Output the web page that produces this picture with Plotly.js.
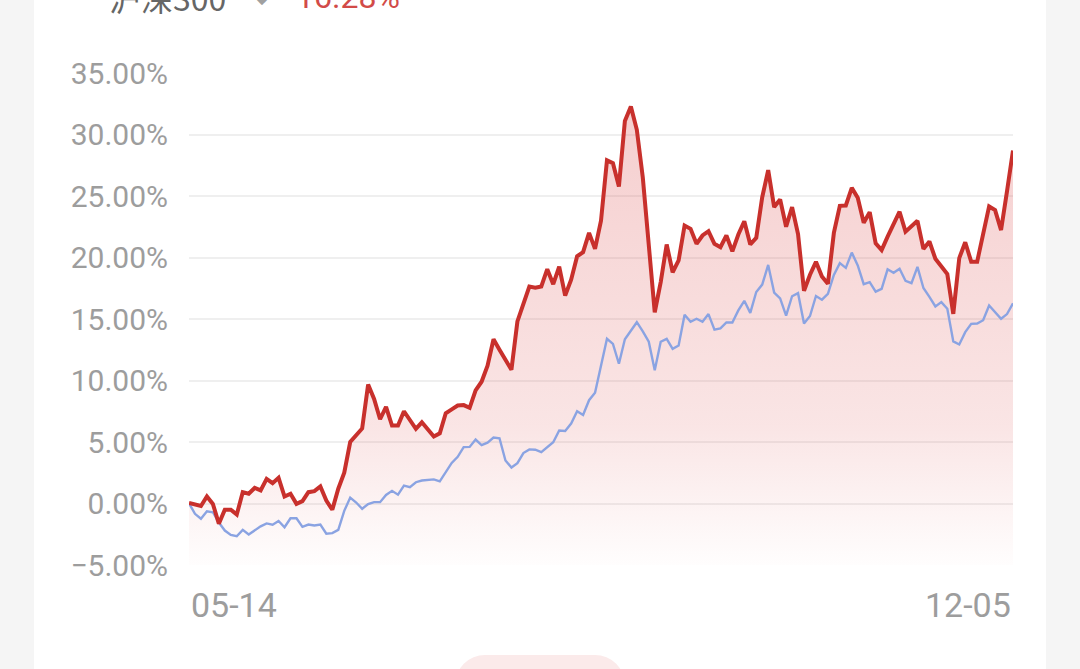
<!DOCTYPE html>
<html>
<head>
<meta charset="utf-8">
<script src="https://cdn.plot.ly/plotly-3.0.1.min.js"></script>
<style>
  html, body { margin: 0; padding: 0; background: #f5f5f5; width: 1080px; height: 669px; overflow: hidden; }
  #card { position: absolute; left: 34px; top: 0; width: 1012px; height: 669px; background: #ffffff; }
  #btn { position: absolute; left: 455px; top: 655px; width: 170px; height: 60px; border-radius: 30px; background: #fbeaea; }
  #chart { position: absolute; left: 0; top: 0; width: 1080px; height: 669px; }
</style>
</head>
<body>
<div id="card"></div>
<div id="btn"></div>
<div id="chart"></div>
<script>
// Fund cumulative return (%), red line
const fundReturn = [
  0.05, -0.08, -0.2, 0.57, -0.03, -1.65, -0.5, -0.5, -0.9, 0.92,
  0.79, 1.27, 1.06, 2.0, 1.65, 2.09, 0.57, 0.79, -0.03, 0.19,
  0.92, 1.0, 1.38, 0.24, -0.51, 1.2, 2.5, 5.0, 5.5, 6.1,
  9.67, 8.5, 6.85, 7.85, 6.34, 6.34, 7.5, 6.75, 6.07, 6.6,
  5.96, 5.45, 5.7, 7.34, 7.65, 7.97, 8.0, 7.78, 9.2, 9.9,
  11.2, 13.35, 12.5, 11.7, 10.87, 14.8, 16.24, 17.64, 17.55, 17.65,
  19.05, 17.83, 19.25, 16.9, 18.2, 20.1, 20.43, 22.0, 20.7, 23.0,
  27.9, 27.67, 25.77, 31.1, 32.28, 30.38, 26.5, 21.38, 15.55, 18.0,
  21.06, 18.8, 19.76, 22.6, 22.33, 21.11, 21.79, 22.14, 21.11, 20.84,
  21.79, 20.5, 21.87, 22.95, 21.06, 21.6, 24.9, 27.1, 24.1, 24.72,
  22.5, 24.1, 21.9, 17.3, 18.6, 19.65, 18.45, 17.86, 22.0, 24.2,
  24.23, 25.66, 24.85, 22.83, 23.68, 21.15, 20.6, 21.7, 22.7, 23.72,
  22.1, 22.5, 22.98, 20.7, 21.3, 19.9, 19.3, 18.65, 15.42, 19.95,
  21.24, 19.66, 19.66, 21.9, 24.15, 23.85, 22.23, 25.4, 28.7
];
// 沪深300 cumulative return (%), blue line
const csi300Return = [
  0.02, -0.84, -1.24, -0.63, -0.71, -1.55, -2.2, -2.55, -2.66, -2.14,
  -2.52, -2.2, -1.86, -1.62, -1.72, -1.42, -1.93, -1.2, -1.2, -1.9,
  -1.71, -1.79, -1.71, -2.46, -2.41, -2.14, -0.6, 0.48, 0.08, -0.43,
  -0.05, 0.11, 0.11, 0.7, 1.03, 0.72, 1.46, 1.33, 1.73, 1.87,
  1.93, 1.96, 1.8, 2.6, 3.3, 3.8, 4.58, 4.6, 5.2, 4.75,
  4.95, 5.36, 5.3, 3.5, 2.92, 3.28, 4.1, 4.4, 4.37, 4.17,
  4.58, 4.98, 5.93, 5.9, 6.5, 7.5, 7.2, 8.4, 9.0, 11.3,
  13.39, 12.98, 11.36, 13.35, 14.1, 14.74, 14.0, 13.15, 10.84, 13.15,
  13.39, 12.58, 12.85, 15.35, 14.78, 15.02, 14.78, 15.4, 14.13, 14.24,
  14.72, 14.72, 15.7, 16.48, 15.5, 17.2, 17.8, 19.4, 17.15, 16.68,
  15.28, 16.85, 17.1, 14.63, 15.24, 16.87, 16.57, 17.05, 18.58, 19.54,
  19.16, 20.4, 19.35, 17.83, 17.99, 17.22, 17.45, 19.04, 18.76, 19.08,
  18.1, 17.91, 19.24, 17.52, 16.8, 16.02, 16.37, 15.83, 13.18, 12.93,
  13.93, 14.61, 14.63, 14.9, 16.1, 15.55, 15.02, 15.4, 16.28
];
const startLabel = '05-14';
const endLabel = '12-05';
const legendName = '沪深300';
const legendValue = '16.28%';

const yMin = -5, yMax = 35;
const lastIdx = fundReturn.length - 1;
const floor = fundReturn.map(() => yMin);

const tickFont = { family: 'Roboto, "Noto Sans", sans-serif', size: 30, color: '#9d9d9d' };
const dateFont = { family: 'Roboto, "Noto Sans", sans-serif', size: 34, color: '#9d9d9d' };

const traces = [
  { y: floor, mode: 'lines', line: { width: 0, color: 'rgba(0,0,0,0)' }, hoverinfo: 'skip', showlegend: false },
  { y: fundReturn, mode: 'lines', fill: 'tonexty', line: { width: 0, color: 'rgba(0,0,0,0)' },
    fillcolor: 'rgba(220,80,80,0.15)',
    fillgradient: { type: 'vertical', start: yMin, stop: 33,
      colorscale: [[0, 'rgba(220,80,80,0.01)'], [0.3, 'rgba(220,80,80,0.15)'], [1, 'rgba(220,80,80,0.28)']] },
    hoverinfo: 'skip', showlegend: false },
  { y: csi300Return, mode: 'lines', line: { color: '#8aa3e2', width: 2.4 }, showlegend: false },
  { y: fundReturn, mode: 'lines', line: { color: '#c8302c', width: 4 }, showlegend: false }
];

const layout = {
  width: 1080, height: 669,
  margin: { l: 189, r: 67, t: 73, b: 104 },
  paper_bgcolor: 'rgba(0,0,0,0)',
  plot_bgcolor: 'rgba(0,0,0,0)',
  showlegend: false,
  xaxis: { range: [0, lastIdx], showgrid: false, zeroline: false, showticklabels: false, showline: false, fixedrange: true },
  yaxis: { range: [yMin, yMax], tick0: 0, dtick: 5, tickformat: '.2f', ticksuffix: '%',
    showgrid: true, gridcolor: '#efefef', gridwidth: 2, zeroline: false, showline: false,
    tickfont: tickFont, ticklabelstandoff: 20, fixedrange: true },
  annotations: [
    { x: 0, y: 0, xref: 'x', yref: 'paper', xanchor: 'left', yanchor: 'middle', yshift: -40,
      text: startLabel, showarrow: false, font: dateFont },
    { x: lastIdx, y: 0, xref: 'x', yref: 'paper', xanchor: 'right', yanchor: 'middle', yshift: -40,
      text: endLabel, showarrow: false, font: dateFont },
    { x: -0.1, y: 1.1545, xref: 'paper', yref: 'paper', xanchor: 'left', yanchor: 'middle',
      text: legendName, showarrow: false,
      font: { family: '"Noto Sans CJK SC", Roboto, sans-serif', size: 32, color: '#666666' } },
    { x: 0.0886, y: 1.1545, xref: 'paper', yref: 'paper', xanchor: 'center', yanchor: 'middle',
      text: '◆', showarrow: false, font: { family: 'DejaVu Sans', size: 18, color: '#a0a0a0' } },
    { x: 0.127, y: 1.1545, xref: 'paper', yref: 'paper', xanchor: 'left', yanchor: 'middle',
      text: legendValue, showarrow: false,
      font: { family: 'Roboto, sans-serif', size: 32, color: '#d24b48' } }
  ]
};

Plotly.newPlot('chart', traces, layout, { displayModeBar: false, staticPlot: true });
</script>
</body>
</html>
